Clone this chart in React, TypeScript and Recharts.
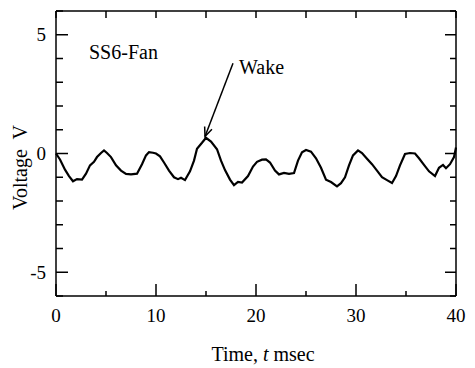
import React from "react";
import * as R from "recharts";
import { LineChart, Line, XAxis, YAxis, ReferenceLine, ReferenceDot, Label } from "recharts";

const timeMs = [
  0, 0.4, 0.9, 1.3, 1.7, 2.1, 2.6, 3.0, 3.4, 3.8, 4.1, 4.5, 4.8, 5.1, 5.5, 6.0, 6.5, 7.0, 7.5, 8.1,
  8.6, 9.0, 9.3, 9.7, 10.0, 10.4, 10.8, 11.3, 11.8, 12.2, 12.5, 12.9, 13.4, 13.8, 14.1, 14.6, 15.0, 15.5,
  16.1, 16.5, 16.9, 17.4, 17.8, 18.2, 18.6, 19.2, 19.7, 20.1, 20.6, 21.0, 21.4, 21.9, 22.3, 22.8, 23.3,
  23.8, 24.2, 24.6, 25.0, 25.5, 26.0, 26.5, 27.0, 27.5, 28.1, 28.5, 28.9, 29.3, 29.7, 30.2, 30.6, 31.1,
  31.6, 32.1, 32.6, 33.1, 33.6, 34.0, 34.4, 34.9, 35.4, 35.9, 36.3, 36.8, 37.3, 37.9, 38.3, 38.7, 39.0,
  39.4, 39.8, 40.0,
];

const voltage = [
  0, -0.25, -0.68, -0.95, -1.17, -1.08, -1.1, -0.85, -0.5, -0.35, -0.15, 0.02, 0.13, 0.02, -0.15, -0.5,
  -0.72, -0.86, -0.88, -0.85, -0.45, -0.08, 0.06, 0.03, 0.0, -0.12, -0.38, -0.72, -1.0, -1.08, -1.02, -1.12,
  -0.75, -0.3, 0.2, 0.45, 0.66, 0.5, 0.18, -0.3, -0.7, -1.1, -1.33, -1.2, -1.22, -0.95, -0.55, -0.35,
  -0.26, -0.25, -0.38, -0.72, -0.88, -0.82, -0.86, -0.82, -0.3, 0.05, 0.15, 0.08, -0.2, -0.6, -1.1, -1.2,
  -1.38, -1.25, -1.0, -0.5, -0.08, 0.13, 0.02, -0.22, -0.45, -0.72, -1.0, -1.12, -1.24, -0.95, -0.5, -0.02,
  0.02, 0.0, -0.2, -0.48, -0.75, -0.95, -0.6, -0.48, -0.62, -0.45, -0.15, 0.25,
];

const xTicks = [0, 5, 10, 15, 20, 25, 30, 35, 40];
const yTicks = [-6, -5, -4, -3, -2, -1, 0, 1, 2, 3, 4, 5, 6];
const yLabeled = [-5, 0, 5];
const xDomain = [0, 40];
const yDomain = [-6, 6];

const data = timeMs.map((t, i) => ({ t, v: voltage[i] }));

const font = "'Liberation Serif', 'Times New Roman', serif";

const BottomTick = (p: any) => {
  const { x, y, payload } = p;
  const v = payload.value;
  const major = v % 10 === 0;
  return (
    <g>
      <line x1={x} x2={x} y1={y} y2={y - (major ? 12 : 5)} stroke="#000" strokeWidth={1.5} />
      {major && (
        <text x={x} y={y + 26} textAnchor="middle" fontFamily={font} fontSize={19} fill="#000">
          {v}
        </text>
      )}
    </g>
  );
};

const LeftTick = (p: any) => {
  const { x, y, payload } = p;
  const v = payload.value;
  const major = yLabeled.includes(v);
  return (
    <g>
      <line x1={x} x2={x + (major ? 12 : 7)} y1={y} y2={y} stroke="#000" strokeWidth={1.5} />
      {major && (
        <text x={x - 10} y={y} dy="0.35em" textAnchor="end" fontFamily={font} fontSize={19} fill="#000">
          {String(v)}
        </text>
      )}
    </g>
  );
};

// top and right edges of the box, with their inward ticks, placed from the chart's plot area
const usePlotAreaSafe: () => any = (R as any).usePlotArea ?? (() => null);

const BoxEdges = () => {
  const area = usePlotAreaSafe();
  if (!area) return null;
  const { x, y, width, height } = area;
  const sx = (t: number) => x + ((t - xDomain[0]) / (xDomain[1] - xDomain[0])) * width;
  const sy = (v: number) => y + height - ((v - yDomain[0]) / (yDomain[1] - yDomain[0])) * height;
  const right = x + width;
  return (
    <g>
      <line x1={x} x2={right} y1={y} y2={y} stroke="#000" strokeWidth={1.5} />
      <line x1={right} x2={right} y1={y} y2={y + height} stroke="#000" strokeWidth={1.5} />
      {xTicks.map((t) => (
        <line key={`bt${t}`} x1={sx(t)} x2={sx(t)} y1={y} y2={y + 7} stroke="#000" strokeWidth={1.5} />
      ))}
      {yTicks.map((v) => (
        <line
          key={`br${v}`}
          x1={right}
          x2={right - (yLabeled.includes(v) ? 11 : 6)}
          y1={sy(v)}
          y2={sy(v)}
          stroke="#000"
          strokeWidth={1.5}
        />
      ))}
    </g>
  );
};

const Customized: any = (R as any).Customized;

const Arrow = (p: any) => {
  const { x1, y1, x2, y2 } = p;
  const a = Math.atan2(y2 - y1, x2 - x1);
  const len = 10;
  const w = 0.4;
  const ax = x2 - len * Math.cos(a - w);
  const ay = y2 - len * Math.sin(a - w);
  const bx = x2 - len * Math.cos(a + w);
  const by = y2 - len * Math.sin(a + w);
  return (
    <g>
      <line x1={x1} y1={y1} x2={x2} y2={y2} stroke="#000" strokeWidth={1.5} />
      <polyline points={`${ax},${ay} ${x2},${y2} ${bx},${by}`} fill="none" stroke="#000" strokeWidth={1.5} />
    </g>
  );
};

const textAt = (value: string) => (p: any) => (
  <text x={p.cx} y={p.cy} fontFamily={font} fontSize={20} fill="#000">
    {value}
  </text>
);

export default function App() {
  return (
    <div style={{ position: "absolute", left: 0, top: 0, background: "#fff" }}>
      <LineChart width={475} height={368} data={data} margin={{ top: 11, right: 19, bottom: 0, left: 0 }}>
        <XAxis
          dataKey="t"
          type="number"
          domain={xDomain}
          ticks={xTicks}
          height={72}
          tickSize={0}
          tickMargin={0}
          tick={<BottomTick />}
          axisLine={{ stroke: "#000", strokeWidth: 1.5 }}
          interval={0}
        >
          <Label
            content={(lp: any) => {
              const vb = lp.viewBox;
              return (
                <text x={263} y={vb.y + 65} textAnchor="middle" fontFamily={font} fontSize={20} fill="#000">
                  Time, <tspan fontStyle="italic">t</tspan> msec
                </text>
              );
            }}
          />
        </XAxis>
        <YAxis
          type="number"
          domain={yDomain}
          ticks={yTicks}
          width={56}
          tickSize={0}
          tickMargin={0}
          tick={<LeftTick />}
          axisLine={{ stroke: "#000", strokeWidth: 1.5 }}
          interval={0}
        >
          <Label
            content={(lp: any) => {
              const vb = lp.viewBox;
              const cx = 20;
              const cy = vb.y + vb.height / 2 + 14;
              return (
                <text
                  x={cx}
                  y={cy}
                  transform={`rotate(-90 ${cx} ${cy})`}
                  textAnchor="middle"
                  dominantBaseline="central"
                  fontFamily={font}
                  fontSize={20}
                  fill="#000"
                  style={{ whiteSpace: "pre" }}
                >
                  {"Voltage  V"}
                </text>
              );
            }}
          />
        </YAxis>
        <Line
          type="linear"
          dataKey="v"
          stroke="#000"
          strokeWidth={2.2}
          dot={false}
          isAnimationActive={false}
        />
        <ReferenceLine
          segment={[
            { x: 17.7, y: 3.8 },
            { x: 14.9, y: 0.72 },
          ]}
          shape={<Arrow />}
        />
        <ReferenceDot x={3.3} y={3.96} r={0} shape={textAt("SS6-Fan")} />
        <ReferenceDot x={18.3} y={3.33} r={0} shape={textAt("Wake")} />
        {Customized ? <Customized component={<BoxEdges />} /> : <BoxEdges />}
      </LineChart>
    </div>
  );
}
